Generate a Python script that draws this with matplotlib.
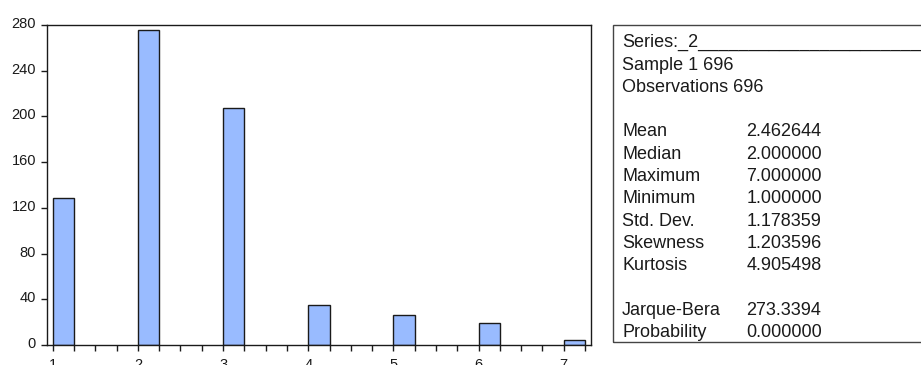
import matplotlib
matplotlib.use("Agg")
import matplotlib.pyplot as plt
from matplotlib.patches import Rectangle
from matplotlib.transforms import offset_copy

plt.rcParams["font.family"] = ["Liberation Sans", "DejaVu Sans"]

# histogram of series _2 (bins of width 0.25)
bin_left = [1, 2, 3, 4, 5, 6, 7]
counts = [129, 276, 207, 35, 26, 19, 4]
bin_width = 0.25

y_ticks = [0, 40, 80, 120, 160, 200, 240, 280]
x_labels = [1, 2, 3, 4, 5, 6, 7]

series_name = "_2"
sample = "1 696"
n_obs = 696
stat_names = ["Mean", "Median", "Maximum", "Minimum", "Std. Dev.", "Skewness", "Kurtosis"]
stat_values = [2.462644, 2.000000, 7.000000, 1.000000, 1.178359, 1.203596, 4.905498]
test_names = ["Jarque-Bera", "Probability"]
test_values = ["273.3394", "0.000000"]

W, H = 921, 365
fig = plt.figure(figsize=(W / 100, H / 100), dpi=100)

def px(x, y):
    return x / W, 1 - y / H

ax_l, ax_r, ax_t, ax_b = 47, 591, 25, 345
ax = fig.add_axes([ax_l / W, (H - ax_b) / H, (ax_r - ax_l) / W, (ax_b - ax_t) / H])

ax.bar(bin_left, counts, width=bin_width, align="edge",
       color="#99bbff", edgecolor="#1a1a1a", linewidth=1.0)

ax.set_xlim(0.933, 7.32)
ax.set_ylim(0, 280)
ax.set_yticks(y_ticks)
ticks = [1 + bin_width * i for i in range(26)]
ax.set_xticks(ticks)
ax.set_xticklabels([str(int(t)) if t in x_labels else "" for t in ticks])
ax.tick_params(axis="x", direction="out", length=4, width=1, pad=5.5,
               labelsize=10.5, colors="#1a1a1a")
ax.tick_params(axis="y", direction="out", length=4, width=1, pad=4,
               labelsize=10.5, colors="#1a1a1a")
# y labels sit a little above their ticks
for lbl in ax.get_yticklabels():
    lbl.set_transform(offset_copy(lbl.get_transform(), fig=fig, x=0, y=2.5, units="dots"))
for s in ax.spines.values():
    s.set_color("#1a1a1a")
    s.set_linewidth(1.0)

# statistics panel on the right
box_l, box_t, box_b = 612.7, 25, 342.3
fig.patches.append(Rectangle(px(box_l, box_b), (W + 10 - box_l) / W, (box_b - box_t) / H,
                             transform=fig.transFigure, fill=False,
                             edgecolor="#444444", linewidth=1.0, clip_on=False))

tx, vx = 622, 746.5
row0, step = 42.7, 22.3
fs = 13
txt = dict(fontsize=fs, va="center", color="#1a1a1a")
fig.text(*px(tx, row0), "Series:" + series_name + "_" * 40, **txt)
fig.text(*px(tx, row0 + step), "Sample " + sample, **txt)
fig.text(*px(tx, row0 + 2 * step), "Observations %d" % n_obs, **txt)
for i, (name, val) in enumerate(zip(stat_names, stat_values)):
    y = row0 + (4 + i) * step
    fig.text(*px(tx, y), name, **txt)
    fig.text(*px(vx, y), "%.6f" % val, **txt)
for i, (name, val) in enumerate(zip(test_names, test_values)):
    y = row0 + (12 + i) * step
    fig.text(*px(tx, y), name, **txt)
    fig.text(*px(vx, y), val, **txt)

fig.savefig("out.png", dpi=100)
